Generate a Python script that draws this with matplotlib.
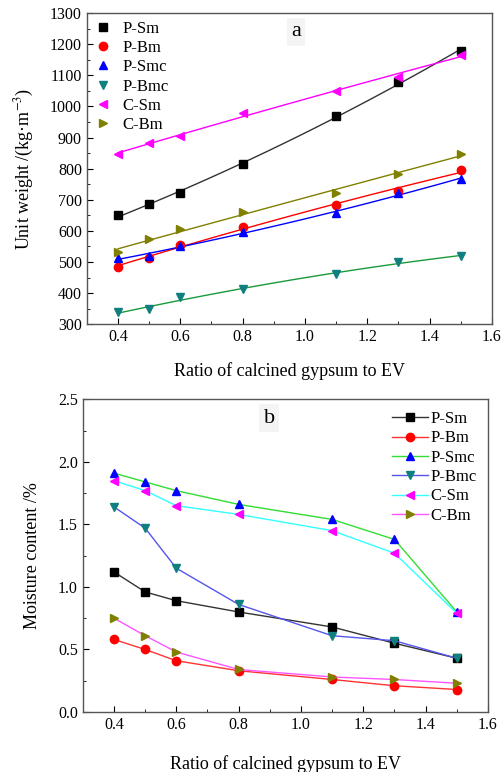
import numpy as np
import matplotlib
matplotlib.use("Agg")
import matplotlib.pyplot as plt
from matplotlib.ticker import MultipleLocator

plt.rcParams['font.family'] = ['Liberation Serif', 'DejaVu Serif']
plt.rcParams['mathtext.fontset'] = 'stix'

ratio = [0.4, 0.5, 0.6, 0.8, 1.1, 1.3, 1.5]
series = ["P-Sm", "P-Bm", "P-Smc", "P-Bmc", "C-Sm", "C-Bm"]

# Panel a: unit weight (kg/m3)
uw_PSm = [650, 687, 721, 814, 969, 1080, 1178]
uw_PBm = [485, 514, 556, 612, 684, 729, 795]
uw_PSmc = [512, 520, 552, 596, 656, 721, 768]
uw_PBmc = [338, 348, 386, 413, 461, 501, 519]
uw_CSm = [848, 883, 904, 979, 1049, 1095, 1167]
uw_CBm = [532, 575, 605, 660, 723, 782, 848]

# Panel b: moisture content (%)
mc_PSm = [1.12, 0.96, 0.89, 0.80, 0.68, 0.55, 0.43]
mc_PBm = [0.58, 0.50, 0.41, 0.33, 0.26, 0.21, 0.18]
mc_PSmc = [1.91, 1.84, 1.77, 1.66, 1.54, 1.38, 0.80]
mc_PBmc = [1.64, 1.47, 1.15, 0.86, 0.61, 0.57, 0.43]
mc_CSm = [1.85, 1.77, 1.65, 1.58, 1.45, 1.27, 0.79]
mc_CBm = [0.75, 0.61, 0.48, 0.34, 0.28, 0.26, 0.23]

markers = ['s', 'o', '^', 'v', '<', '>']
marker_colors = ['black', 'red', 'blue', '#0f7f7f', '#ff00ff', '#808000']
fit_colors = ['#333333', 'red', 'blue', '#1a9a3a', '#ff00ff', '#808000']
line_colors_b = ['#333333', '#ff3333', '#33dd33', '#5555ee', '#33ffff', '#ff55ff']

uw_all = [uw_PSm, uw_PBm, uw_PSmc, uw_PBmc, uw_CSm, uw_CBm]
mc_all = [mc_PSm, mc_PBm, mc_PSmc, mc_PBmc, mc_CSm, mc_CBm]

fig = plt.figure(figsize=(5.02, 7.72), dpi=100)

def style_axes(ax):
    ax.tick_params(direction='in', which='both', top=False, right=False, labelsize=11.5)
    ax.tick_params(which='major', length=4)
    ax.tick_params(which='minor', length=2)
    for s in ax.spines.values():
        s.set_color('#555555')
        s.set_linewidth(1.0)

# Panel a
axa = fig.add_axes([0.173, 0.580, 0.807, 0.403])
x = np.array(ratio)
xf = np.linspace(0.4, 1.5, 100)
for name, ys, m, mc, fc in zip(series, uw_all, markers, marker_colors, fit_colors):
    axa.plot(x, ys, linestyle='none', marker=m, color=mc, markersize=6, label=name, zorder=3)
    coef = np.polyfit(x, ys, 2)
    axa.plot(xf, np.polyval(coef, xf), color=fc, linewidth=1.0, zorder=2)
axa.set_xlim(0.3, 1.6)
axa.set_ylim(300, 1300)
axa.xaxis.set_major_locator(MultipleLocator(0.2))
axa.xaxis.set_minor_locator(MultipleLocator(0.1))
axa.yaxis.set_major_locator(MultipleLocator(100))
axa.yaxis.set_minor_locator(MultipleLocator(50))
style_axes(axa)
axa.set_xlabel("Ratio of calcined gypsum to EV", fontsize=13, labelpad=12)
axa.set_ylabel("Unit weight /(kg·m$^{-3}$)", fontsize=13, labelpad=10)
axa.legend(loc='upper left', frameon=False, fontsize=12, handlelength=1.0,
           handletextpad=0.7, labelspacing=0.2, borderaxespad=0.05)
axa.text(0.516, 0.94, "a", transform=axa.transAxes, fontsize=16, ha='center', va='center',
         bbox=dict(facecolor='#f4f4f4', edgecolor='none', pad=3))

# Panel b
axb = fig.add_axes([0.165, 0.0777, 0.807, 0.405])
for name, ys, m, mc, lc in zip(series, mc_all, markers, marker_colors, line_colors_b):
    axb.plot(x, ys, linestyle='-', color=lc, linewidth=1.0, marker=m,
             markerfacecolor=mc, markeredgecolor=mc, markersize=6, label=name)
axb.set_xlim(0.3, 1.6)
axb.set_ylim(0, 2.5)
axb.xaxis.set_major_locator(MultipleLocator(0.2))
axb.xaxis.set_minor_locator(MultipleLocator(0.1))
axb.yaxis.set_major_locator(MultipleLocator(0.5))
axb.yaxis.set_minor_locator(MultipleLocator(0.25))
style_axes(axb)
axb.set_xlabel("Ratio of calcined gypsum to EV", fontsize=13, labelpad=16)
axb.set_ylabel("Moisture content /%", fontsize=13, labelpad=12)
axb.legend(loc='upper right', frameon=False, fontsize=12, handlelength=2.2,
           handletextpad=0.1, labelspacing=0.2, borderaxespad=0.3)
axb.text(0.46, 0.94, "b", transform=axb.transAxes, fontsize=16, ha='center', va='center',
         bbox=dict(facecolor='#f4f4f4', edgecolor='none', pad=3))

fig.savefig("out.png", dpi=100)
